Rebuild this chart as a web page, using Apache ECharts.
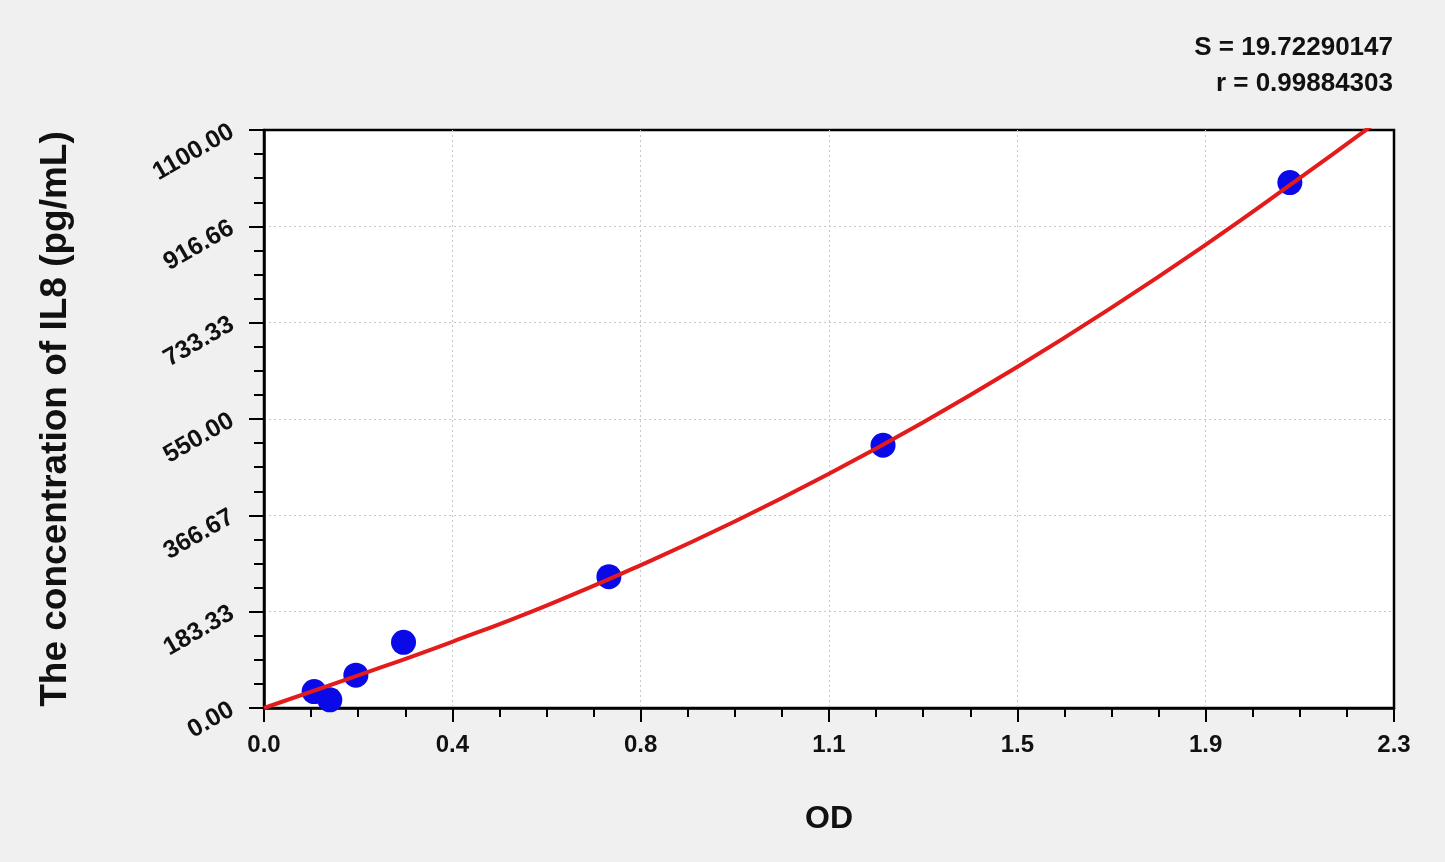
<!DOCTYPE html>
<html>
<head>
<meta charset="utf-8">
<script src="https://cdn.jsdelivr.net/npm/echarts@6/dist/echarts.min.js"></script>
<style>
  html, body { margin: 0; padding: 0; background: #f0f0f0; }
  #chart { width: 1445px; height: 862px; }
</style>
</head>
<body>
<div id="chart"></div>
<script>
// Standard points (OD, concentration)
const pointOD   = [0.102, 0.134, 0.187, 0.284, 0.702, 1.260, 2.088];
const pointConc = [31.25, 15.6, 62.5, 125, 250, 500, 1000];

// Fitted curve
const curveOD   = [0, 0.192, 0.383, 0.575, 0.767, 0.958, 1.15, 1.342, 1.533, 1.725, 1.917, 2.1, 2.253];
const curveConc = [0, 62, 126, 195, 272, 355, 446, 544, 649, 762, 882, 1003, 1107];

// Tick labels
const xTickLabels = ['0.0', '0.4', '0.8', '1.1', '1.5', '1.9', '2.3'];
const yTickLabels = ['0.00', '183.33', '366.67', '550.00', '733.33', '916.66', '1100.00'];

const xTitle = 'OD';
const yTitle = 'The concentration of IL8 (pg/mL)';
const statS = 'S = 19.72290147';
const statR = 'r = 0.99884303';

const FONT = '"Liberation Sans", Arial, sans-serif';

const chart = echarts.init(document.getElementById('chart'));
chart.setOption({
  backgroundColor: '#f0f0f0',
  animation: false,
  grid: {
    left: 264, right: 51, top: 130, bottom: 154,
    show: true, backgroundColor: '#ffffff',
    borderColor: '#000000', borderWidth: 2.5
  },
  graphic: [
    { type: 'text', right: 52, top: 35,
      style: { text: statS, fill: '#111', font: 'bold 26px ' + FONT, textAlign: 'right' } },
    { type: 'text', right: 52, top: 71,
      style: { text: statR, fill: '#111', font: 'bold 26px ' + FONT, textAlign: 'right' } }
  ],
  xAxis: {
    type: 'value', min: 0, max: 2.3, interval: 2.3 / 6,
    name: xTitle, nameLocation: 'middle', nameGap: 95,
    nameTextStyle: { fontFamily: FONT, fontWeight: 'bold', fontSize: 32, color: '#111' },
    axisLine: { show: true, lineStyle: { color: '#000', width: 2.5 } },
    axisTick: { show: true, length: 14, lineStyle: { color: '#000', width: 2 } },
    minorTick: { show: true, splitNumber: 4, length: 9, lineStyle: { color: '#000', width: 2 } },
    axisLabel: {
      margin: 25, fontFamily: FONT, fontWeight: 'bold', fontSize: 24, color: '#111',
      formatter: function (v, i) { return xTickLabels[i]; }
    },
    splitLine: { show: true, showMinLine: false, showMaxLine: false,
      lineStyle: { color: '#c8c8c8', width: 1, type: [2, 3] } }
  },
  yAxis: {
    type: 'value', min: 0, max: 1100, interval: 1100 / 6,
    name: yTitle, nameLocation: 'middle', nameGap: 190, nameRotate: 90,
    nameTextStyle: { fontFamily: FONT, fontWeight: 'bold', fontSize: 37, color: '#111' },
    axisLine: { show: true, lineStyle: { color: '#000', width: 2.5 } },
    axisTick: { show: true, length: 15, lineStyle: { color: '#000', width: 2 } },
    minorTick: { show: true, splitNumber: 4, length: 10, lineStyle: { color: '#000', width: 2 } },
    axisLabel: {
      margin: 32, rotate: 30, fontFamily: FONT, fontWeight: 'bold', fontSize: 25, color: '#111',
      formatter: function (v, i) { return yTickLabels[i]; }
    },
    splitLine: { show: true, showMinLine: false, showMaxLine: false,
      lineStyle: { color: '#c8c8c8', width: 1, type: [2, 3] } }
  },
  series: [
    {
      type: 'scatter', z: 2,
      data: pointOD.map((x, i) => [x, pointConc[i]]),
      symbol: 'circle', symbolSize: 25,
      itemStyle: { color: '#0a0ae8', opacity: 1 }
    },
    {
      type: 'line', z: 3,
      data: curveOD.map((x, i) => [x, curveConc[i]]),
      smooth: 0.5, showSymbol: false, symbol: 'none', clip: true,
      lineStyle: { color: '#e31b1b', width: 4 }
    }
  ]
});
</script>
</body>
</html>
